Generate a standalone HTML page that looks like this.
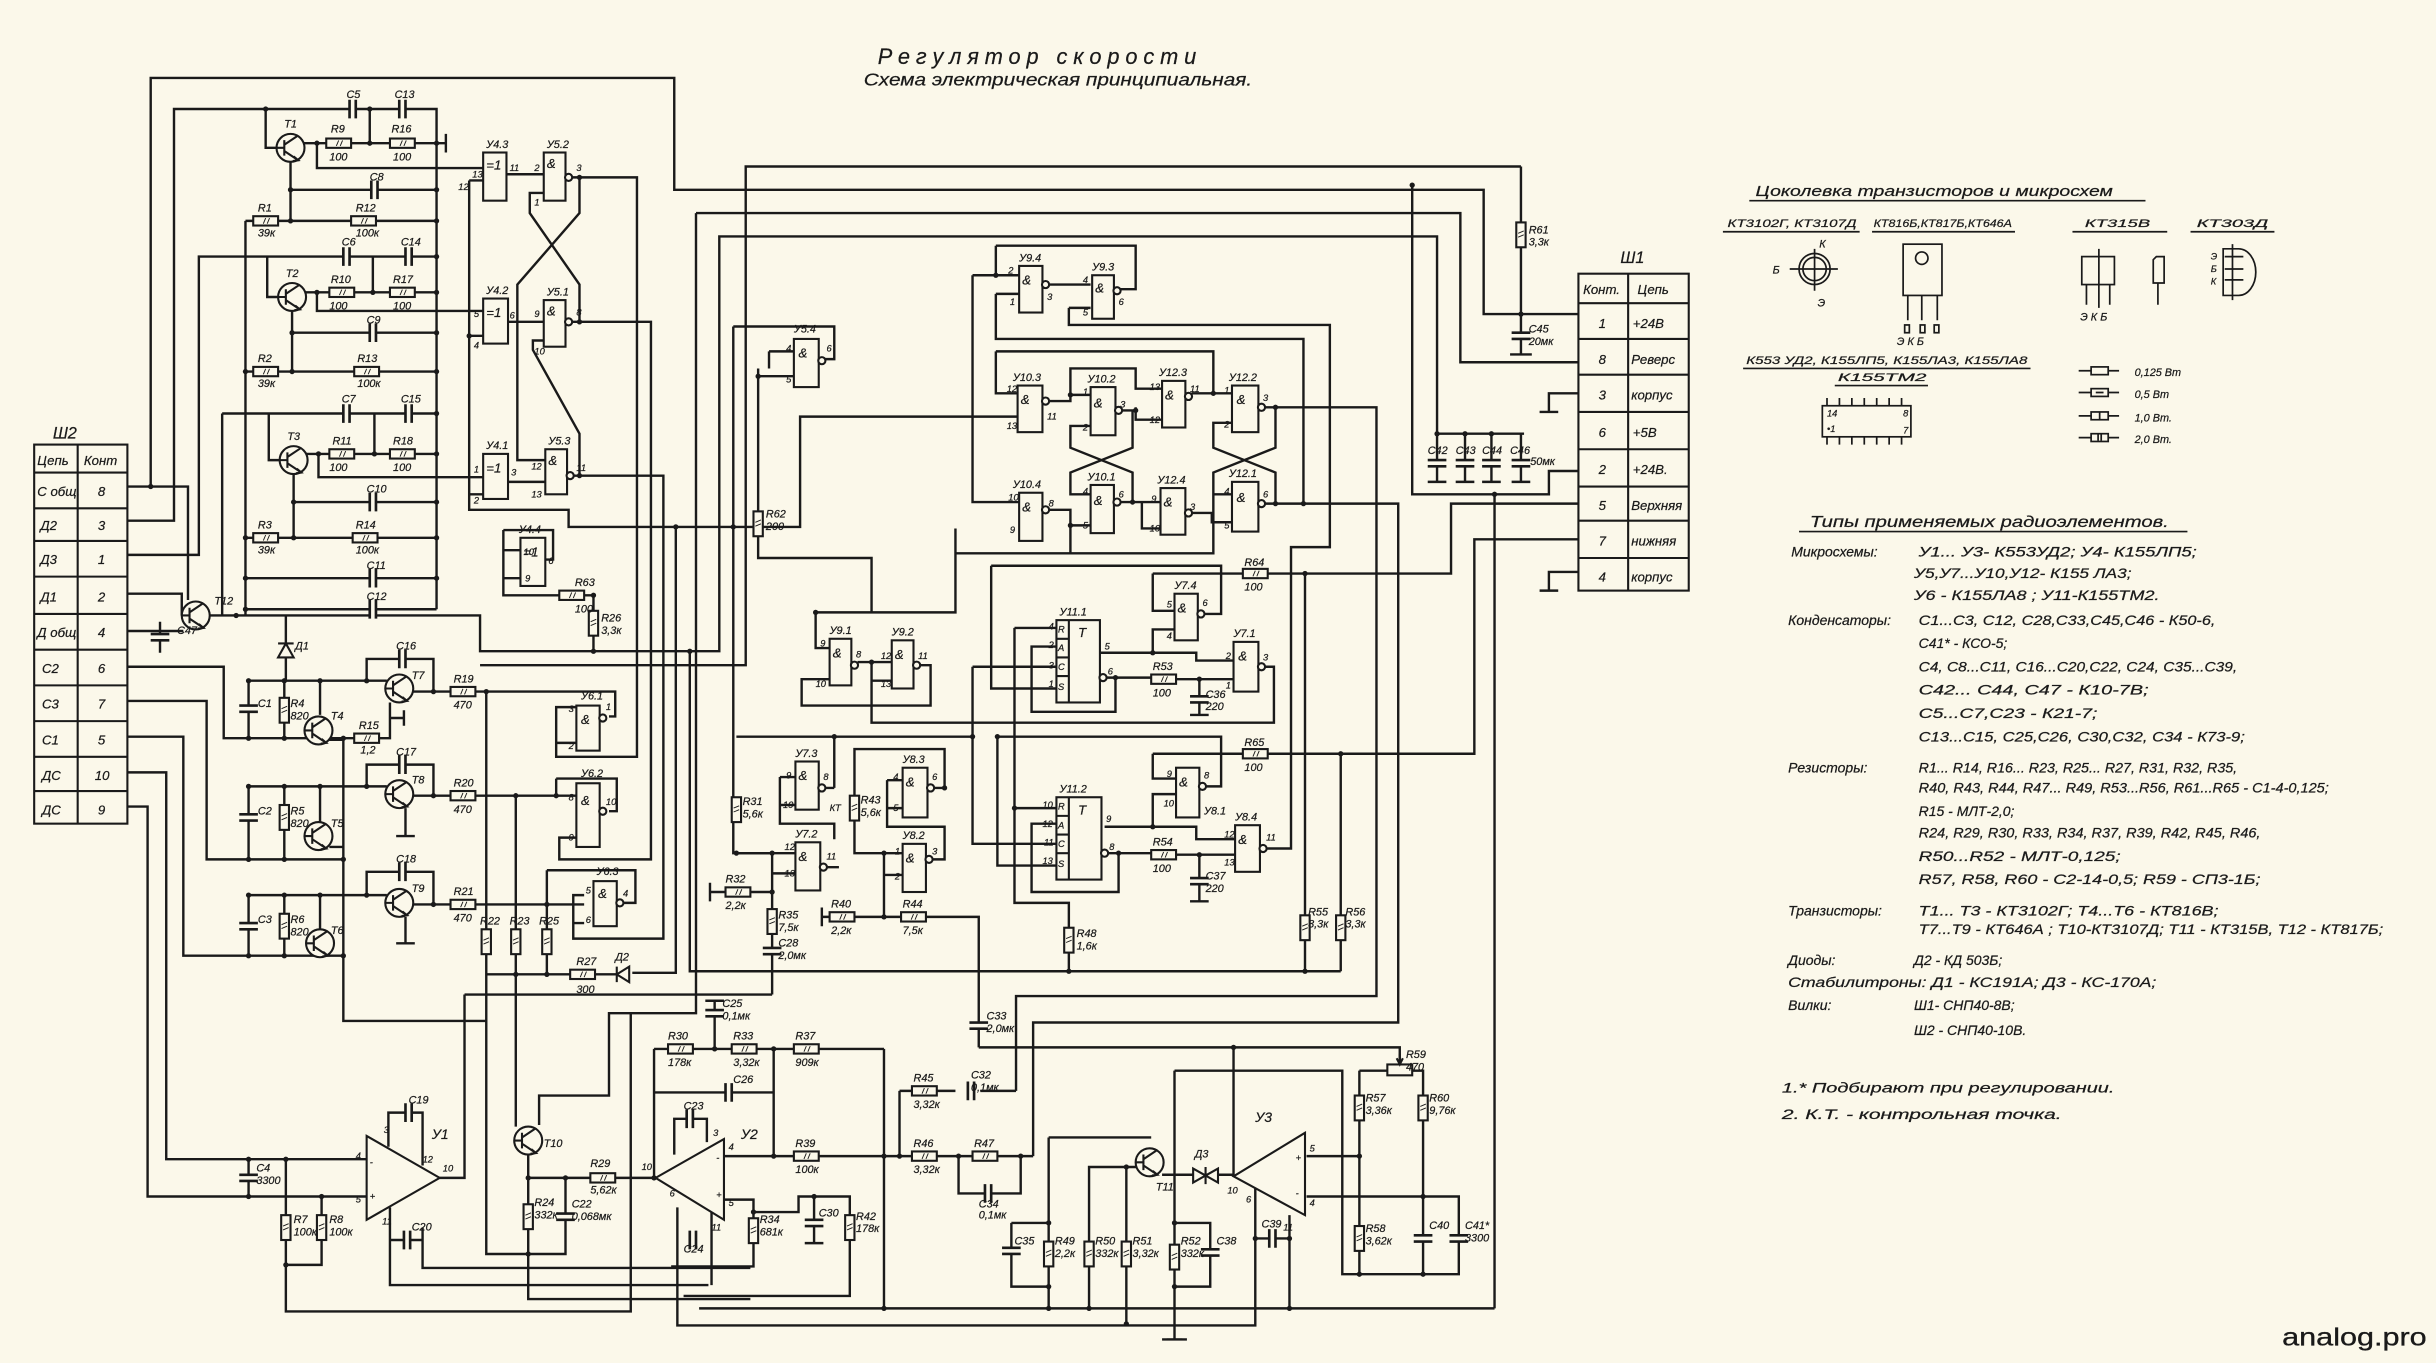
<!DOCTYPE html>
<html><head><meta charset="utf-8"><title>Регулятор скорости</title>
<style>
html,body{margin:0;padding:0;background:#fbf8ea;}
svg{display:block;}
text{font-family:"Liberation Sans","DejaVu Sans",sans-serif;font-style:italic;fill:#1a1a1a;stroke:#1a1a1a;stroke-width:0.15px;}
.s{font-size:7px}
.p{font-size:6px}
.m{font-size:8.5px}
.r{font-size:10px}
</style></head>
<body>
<svg xmlns="http://www.w3.org/2000/svg" xmlns:xlink="http://www.w3.org/1999/xlink" width="2436" height="1363" viewBox="0 0 1568 877">
<defs>
<g id="rh"><rect x="-8" y="-3" width="16" height="6" fill="#fbf8ea"/><path d="M-1.5,1.8L0,-1.8M1,1.8L2.5,-1.8" stroke-width=".6"/></g>
<g id="rv"><rect x="-3" y="-8" width="6" height="16" fill="#fbf8ea"/><path d="M-1.8,1.5L1.8,0M-1.8,-1L1.8,-2.5" stroke-width=".6"/></g>
<g id="ch"><rect x="-2" y="-6" width="4" height="12" fill="#fbf8ea" stroke="none"/><path d="M-2,-6V6M2,-6V6" stroke-width="1.7"/></g>
<g id="cv"><rect x="-6" y="-2" width="12" height="4" fill="#fbf8ea" stroke="none"/><path d="M-6,-2H6M-6,2H6" stroke-width="1.7"/></g>
<g id="q"><circle r="9" fill="#fbf8ea"/><path d="M-9,0H-4M-4,-5V5M-4,-2L5,-8M-4,2L5,8M2,5.5L5,8L1.5,8.5"/></g>
</defs>
<rect width="1568" height="877" fill="#fbf8ea"/>

<!-- Title -->
<text x="565" y="41" font-size="14" textLength="205" lengthAdjust="spacing">Регулятор   скорости</text>
<text x="556" y="55" font-size="11" textLength="250" lengthAdjust="spacingAndGlyphs">Схема электрическая принципиальная.</text>

<g stroke="#1a1a1a" stroke-width="1.55" fill="none" stroke-linejoin="miter">

<!-- ============ Top left block (T1-T3) ============ -->
<path d="M97,313V50H434V122H955V202H1016
M82,313H121V386
M82,335H112V70H281V392
M171,70V95H178
M194,92H281
M238,70V92
M281,92H287M287,86V98
M204,92V108H311
M187,104V142
M187,122H281
M158,142H281
M158,142V396
M82,357H128V165H281
M172,165V191H179
M195,188H281
M240,165V188
M204,188V200H311
M188,200V239
M188,214H281
M158,239H281
M143,266V396
M143,266H281
M173,266V296H180
M196,292H281
M241,266V292
M205,292V307H311
M189,305V346
M189,323H281
M158,346H281
M158,372H281
M158,392H281
M135,396H158V396
M152,396H309V419H463V152H925V279H981
M309,428H480V107H979
M82,382H117V396
M82,406H118
M103,400V420
"/>
<!-- Top long bus -->
<path d="M448,137H940V233H1016
M979,107V228M972,228H986
M909,119V318H997V303H1016
M962,318V842
M925,279V310M943,279V310M960,279V310M979,279V310
M919,310H931M937,310H949M954,310H966M973,310H985
M1016,253H997V265M991,265H1003
M1016,368H997V380M991,380H1003
M1016,324H934V369H816
M1016,347H949V485H816
"/>

<!-- ============ У4/У5 logic ============ -->
<path d="M302,116V328H366V339H515V268H655
M302,116H311M302,216H311M302,318H311
M326,112H350
M327,207H350
M327,310H351
M368,114H410V487H358V455H371M358,478H371
M373,114V137L333,183V296H351
M350,124H341V137L373,183V207
M368,207H419V553H360V539H371
M350,219H343V225L373,279V306
M369,306H427V604H369V576H376M369,594H376
M324,341H356V360H351
M324,341V383H360M324,354H335M324,372H335
M376,383H382V419
M435,339V626H407
M444,419V625H863
M448,137V652H392V705H347V724
M472,210H537V231H529
M472,210V549H512
M495,226H511M495,226V237M488,242H511
M488,237V359H561V394
M615,340V394H525V417H534
"/>

<!-- ============ Middle top logic ============ -->
<path d="M626,177H656M626,177V323H656
M641,158H731V186H721
M641,158V177
M672,183H702
M641,189H656M641,189V218H839V324
M688,198H702M688,198V209H856V352H831V546H813
M641,226H781V253H793M641,226V253H655
M675,258H689V237H731V250H748
M689,254H702
M722,264H731V270H748
M731,264V262
M767,253H793
M702,274H689V288L729,304V323
M729,264V288L689,304V318H702
M793,272H781V288L821,304V324
M821,262V288L781,304V318H793
M814,262H886V641H654V702
M814,324H900V658H665V744
M675,328H689V338H702
M781,318V356H615
M689,338V356
M721,323H747
M735,323V340H747
M767,330H780V336H793
"/>

<!-- ============ У7/У9/У11 area ============ -->
<path d="M552,426H574
M561,426V465H820V429H814
M561,438H574
M592,428H599V454H516V437H534
M638,364H786V395H773
M638,364V443H680
M653,404H680M653,404V581H688V625
M653,520H680
M474,474H626
M626,429H680M626,429V543H680
M642,474H786V506H774M642,474V557H680
M680,416H664V458H718V436H712
M708,420H770V425H794
M742,420V405H756
M742,369V393H756
M742,369H800
M712,436H741M757,437H794
M772,437V460M766,460H778
M711,532H770V540H795
M742,532V511H757
M742,485V501H757
M742,485H800
M680,530H664V574H720V549H713
M713,549H741M757,550H795
M772,550V580M766,580H778
M840,369V625
M863,485V625
"/>
<!-- ============ У7.2/У7.3/У8.2/У8.3 ============ -->
<path d="M474,549H497V640
M497,562H512
M457,574H497M457,568V580
M299,640H497
M537,507H529M537,507V474
M502,500H512M502,500V518H512M502,518V530H537V540
M530,558H540
M608,507H599M608,507V482H550V549H581
M569,549V590
M569,563H581
M571,502H581M571,502V532H608V553H598
M571,520H581
M529,590H630V674
M529,584V596
"/>

<!-- ============ Bottom-left (T4-T10, U1) ============ -->
<path d="M82,429H144V475H221
M82,451H133V553H221
M82,474H118V615H221
M82,497H107V746H236
M82,519H95V770H236
M184,396V438
M160,438H236
M160,438V475M183,438V475M206,438V460
M212,476H221
M221,475V657H313
M221,475H251V452
M251,462H260M260,457V467
M236,438V424H279V445
M236,438H249
M264,445H396V461H392
M160,506H236
M160,506V553M183,506V553M206,506V529
M212,545H221
M236,506V492H279V512
M236,506H249
M264,512H371
M358,501H397V522H392
M358,501V512
M261,520V538M255,538H267
M160,576H236
M160,576V615M183,576V615M206,576V599
M212,615H221
M236,576V561H279V582
M236,576H249
M264,582H352
M352,560H409V581H399
M352,560V627
M352,582H376
M261,590V607M255,607H267
M313,445V807H364V760
M332,512V725
M313,627H367
M383,627H397
M184,746V844H406V652
M207,770V814H184
M160,746V770
M250,738V716H272V750
M251,777V827H456
M251,798H272
M272,790V816H483
M283,758H299V640
M340,742V836H483
M340,758H421
M364,758V764
"/>
<!-- ============ U2 area ============ -->
<path d="M421,675V758
M421,675H569
M460,675V644M454,644H466
M421,703H498
M498,675V744
M466,744H569
M434,743V720H455V735
M466,772H485V815H432
M485,780H514V770H547V834H440
M524,770V800M518,800H530
M436,777V853H808V763
M458,780V827
M569,675V842
M569,744H665
M579,702V744
M579,702H615
M631,702H654
M617,744V768H657V744
"/>
<!-- ============ U3 / T11 area ============ -->
<path d="M630,674H901V685
M794,674V757
M675,732H741
M675,732V842
M651,787H675
M651,787V828H675
M733,751H701V842
M725,751V852
M748,756H794
M756,689H864V820H939V770H841
M875,689H916V820
M875,689V820
M841,744H875
M756,689V862M748,862H764
M756,787H779V828H756
M830,782V842
M808,797H830
M450,842H962
"/>
</g>

<!-- ============ Components ============ -->
<g stroke="#1a1a1a" stroke-width="1.35" fill="none">
<use xlink:href="#rh" x="218" y="92"/><use xlink:href="#rh" x="259" y="92"/>
<use xlink:href="#rh" x="171" y="142"/><use xlink:href="#rh" x="234" y="142"/>
<use xlink:href="#rh" x="220" y="188"/><use xlink:href="#rh" x="259" y="188"/>
<use xlink:href="#rh" x="171" y="239"/><use xlink:href="#rh" x="236" y="239"/>
<use xlink:href="#rh" x="220" y="292"/><use xlink:href="#rh" x="259" y="292"/>
<use xlink:href="#rh" x="171" y="346"/><use xlink:href="#rh" x="235" y="346"/>
<use xlink:href="#rh" x="236" y="475"/>
<use xlink:href="#rh" x="298" y="445"/><use xlink:href="#rh" x="298" y="512"/><use xlink:href="#rh" x="298" y="582"/>
<use xlink:href="#rh" x="375" y="627"/>
<use xlink:href="#rh" x="368" y="383"/>
<use xlink:href="#rh" x="808" y="369"/><use xlink:href="#rh" x="808" y="485"/>
<use xlink:href="#rh" x="749" y="437"/><use xlink:href="#rh" x="749" y="550"/>
<use xlink:href="#rh" x="475" y="574"/><use xlink:href="#rh" x="542" y="590"/><use xlink:href="#rh" x="588" y="590"/>
<use xlink:href="#rh" x="388" y="758"/>
<use xlink:href="#rh" x="438" y="675"/><use xlink:href="#rh" x="479" y="675"/><use xlink:href="#rh" x="519" y="675"/>
<use xlink:href="#rh" x="519" y="744"/>
<use xlink:href="#rh" x="595" y="702"/><use xlink:href="#rh" x="595" y="744"/><use xlink:href="#rh" x="634" y="744"/>
<rect x="893" y="685" width="16" height="7" fill="#fbf8ea"/>
<path d="M901,678V685M899,681L901,685L903,681"/>
<use xlink:href="#rv" x="979" y="151"/><use xlink:href="#rv" x="488" y="337"/><use xlink:href="#rv" x="382" y="401"/>
<use xlink:href="#rv" x="313" y="606"/><use xlink:href="#rv" x="332" y="606"/><use xlink:href="#rv" x="352" y="606"/>
<use xlink:href="#rv" x="183" y="457"/><use xlink:href="#rv" x="183" y="526"/><use xlink:href="#rv" x="183" y="596"/>
<use xlink:href="#rv" x="184" y="790"/><use xlink:href="#rv" x="207" y="790"/>
<use xlink:href="#rv" x="340" y="783"/>
<use xlink:href="#rv" x="485" y="792"/><use xlink:href="#rv" x="547" y="790"/>
<use xlink:href="#rv" x="474" y="521"/><use xlink:href="#rv" x="550" y="520"/><use xlink:href="#rv" x="497" y="593"/>
<use xlink:href="#rv" x="688" y="605"/><use xlink:href="#rv" x="840" y="597"/><use xlink:href="#rv" x="863" y="597"/>
<use xlink:href="#rv" x="675" y="807"/><use xlink:href="#rv" x="701" y="807"/><use xlink:href="#rv" x="725" y="807"/><use xlink:href="#rv" x="756" y="809"/>
<use xlink:href="#rv" x="875" y="713"/><use xlink:href="#rv" x="916" y="713"/><use xlink:href="#rv" x="875" y="797"/>
<use xlink:href="#ch" x="227" y="70"/><use xlink:href="#ch" x="259" y="70"/>
<use xlink:href="#ch" x="241" y="122"/>
<use xlink:href="#ch" x="223" y="165"/><use xlink:href="#ch" x="263" y="165"/>
<use xlink:href="#ch" x="240" y="214"/>
<use xlink:href="#ch" x="223" y="266"/><use xlink:href="#ch" x="263" y="266"/>
<use xlink:href="#ch" x="240" y="323"/><use xlink:href="#ch" x="240" y="372"/><use xlink:href="#ch" x="240" y="392"/>
<use xlink:href="#ch" x="259" y="424"/><use xlink:href="#ch" x="259" y="492"/><use xlink:href="#ch" x="259" y="561"/>
<use xlink:href="#ch" x="263" y="716"/><use xlink:href="#ch" x="262" y="798"/>
<use xlink:href="#ch" x="444" y="720"/><use xlink:href="#ch" x="469" y="703"/>
<use xlink:href="#ch" x="625" y="702"/><use xlink:href="#ch" x="636" y="768"/>
<use xlink:href="#ch" x="819" y="797"/><use xlink:href="#ch" x="446" y="798"/>
<use xlink:href="#cv" x="979" y="216"/>
<use xlink:href="#cv" x="925" y="298"/><use xlink:href="#cv" x="943" y="298"/><use xlink:href="#cv" x="960" y="298"/><use xlink:href="#cv" x="979" y="298"/>
<use xlink:href="#cv" x="103" y="410"/>
<use xlink:href="#cv" x="160" y="456"/><use xlink:href="#cv" x="160" y="526"/><use xlink:href="#cv" x="160" y="596"/>
<use xlink:href="#cv" x="160" y="758"/><use xlink:href="#cv" x="364" y="783"/>
<use xlink:href="#cv" x="460" y="652"/><use xlink:href="#cv" x="524" y="787"/><use xlink:href="#cv" x="497" y="612"/>
<use xlink:href="#cv" x="630" y="660"/>
<use xlink:href="#cv" x="772" y="450"/><use xlink:href="#cv" x="772" y="567"/>
<use xlink:href="#cv" x="651" y="805"/><use xlink:href="#cv" x="779" y="806"/>
<use xlink:href="#cv" x="916" y="797"/><use xlink:href="#cv" x="939" y="797"/>
<use xlink:href="#q" x="187" y="95"/><use xlink:href="#q" x="188" y="191"/><use xlink:href="#q" x="189" y="296"/>
<use xlink:href="#q" x="126" y="396"/>
<use xlink:href="#q" x="205" y="470"/><use xlink:href="#q" x="205" y="538"/><use xlink:href="#q" x="206" y="607"/>
<use xlink:href="#q" x="257" y="443"/><use xlink:href="#q" x="257" y="511"/><use xlink:href="#q" x="257" y="581"/>
<use xlink:href="#q" x="340" y="734"/><use xlink:href="#q" x="740" y="748"/>
<path d="M179,423H189L184,414ZM179,414H189" fill="#fbf8ea"/>
<path d="M397,627L405,622V632ZM397,622V632" fill="#fbf8ea"/>
<path d="M768,752V761L776,756.5ZM784,752V761L776,756.5ZM776,751V762" fill="#fbf8ea"/>
<g fill="#fbf8ea">
<rect x="311" y="98" width="15" height="31"/><rect x="350" y="98" width="14" height="31"/>
<rect x="311" y="192" width="16" height="29"/><rect x="350" y="193" width="14" height="30"/>
<rect x="311" y="292" width="16" height="29"/><rect x="351" y="289" width="14" height="29"/>
<rect x="335" y="346" width="16" height="31"/>
<rect x="511" y="218" width="16" height="31"/>
<rect x="371" y="454" width="15" height="29"/><rect x="371" y="504" width="15" height="41"/><rect x="382" y="567" width="15" height="29"/>
<rect x="656" y="171" width="15" height="30"/><rect x="703" y="177" width="14" height="28"/>
<rect x="655" y="248" width="16" height="30"/><rect x="702" y="249" width="16" height="31"/>
<rect x="748" y="245" width="15" height="30"/><rect x="793" y="248" width="17" height="30"/>
<rect x="656" y="317" width="15" height="31"/><rect x="702" y="312" width="15" height="31"/>
<rect x="747" y="314" width="16" height="30"/><rect x="793" y="310" width="17" height="32"/>
<rect x="756" y="382" width="15" height="30"/><rect x="794" y="413" width="16" height="32"/>
<rect x="534" y="411" width="14" height="30"/><rect x="574" y="412" width="14" height="31"/>
<rect x="512" y="490" width="15" height="31"/><rect x="581" y="494" width="16" height="32"/>
<rect x="512" y="542" width="16" height="31"/><rect x="581" y="543" width="15" height="31"/>
<rect x="757" y="494" width="15" height="32"/><rect x="795" y="531" width="16" height="30"/>
<rect x="680" y="399" width="28" height="53"/><rect x="680" y="513" width="29" height="53"/>
</g>
<path d="M688,399V452M680,411H688M680,423H688M680,435H688M688,513V566M680,525H688M680,537H688M680,549H688"/>
<g fill="#fbf8ea">
<circle cx="366" cy="114" r="2.3"/><circle cx="366" cy="207" r="2.3"/><circle cx="367" cy="306" r="2.3"/>
<circle cx="529" cy="232" r="2.3"/><circle cx="388" cy="462" r="2.3"/><circle cx="388" cy="522" r="2.3"/><circle cx="399" cy="581" r="2.3"/>
<circle cx="673" cy="183" r="2.3"/><circle cx="719" cy="187" r="2.3"/>
<circle cx="673" cy="258" r="2.3"/><circle cx="720" cy="264" r="2.3"/><circle cx="765" cy="255" r="2.3"/><circle cx="812" cy="262" r="2.3"/>
<circle cx="673" cy="328" r="2.3"/><circle cx="719" cy="323" r="2.3"/><circle cx="765" cy="330" r="2.3"/><circle cx="812" cy="324" r="2.3"/>
<circle cx="773" cy="395" r="2.3"/><circle cx="812" cy="429" r="2.3"/>
<circle cx="550" cy="428" r="2.3"/><circle cx="590" cy="428" r="2.3"/>
<circle cx="529" cy="507" r="2.3"/><circle cx="599" cy="507" r="2.3"/><circle cx="530" cy="558" r="2.3"/><circle cx="598" cy="553" r="2.3"/>
<circle cx="774" cy="506" r="2.3"/><circle cx="813" cy="546" r="2.3"/>
<circle cx="710" cy="436" r="2.3"/><circle cx="711" cy="549" r="2.3"/>
</g>
<polygon points="236,731 283,758 236,785" fill="#fbf8ea"/>
<polygon points="466,733 422,758 466,785" fill="#fbf8ea"/>
<polygon points="840,729 794,757 840,782" fill="#fbf8ea"/>
<path d="M751,862H761"/>
<rect x="22" y="286" width="60" height="244" fill="none"/>
<path d="M50,286V530M22,304H82M22,327H82M22,348H82M22,371H82M22,395H82M22,418H82M22,441H82M22,464H82M22,487H82M22,509H82"/>
<rect x="1016" y="176" width="71" height="204" fill="none"/>
<path d="M1048,176V380M1016,195H1087M1016,218H1087M1016,241H1087M1016,265H1087M1016,289H1087M1016,313H1087M1016,335H1087M1016,359H1087"/>
</g>

<!-- junction dots -->
<g fill="#1a1a1a">
<circle cx="97" cy="313" r="1.7"/><circle cx="171" cy="70" r="1.7"/><circle cx="238" cy="70" r="1.7"/><circle cx="238" cy="92" r="1.7"/>
<circle cx="204" cy="92" r="1.7"/><circle cx="281" cy="92" r="1.7"/><circle cx="187" cy="122" r="1.7"/><circle cx="187" cy="142" r="1.7"/>
<circle cx="281" cy="122" r="1.7"/><circle cx="281" cy="142" r="1.7"/><circle cx="281" cy="165" r="1.7"/><circle cx="281" cy="188" r="1.7"/>
<circle cx="281" cy="214" r="1.7"/><circle cx="281" cy="239" r="1.7"/><circle cx="281" cy="266" r="1.7"/><circle cx="281" cy="292" r="1.7"/>
<circle cx="281" cy="323" r="1.7"/><circle cx="281" cy="346" r="1.7"/><circle cx="281" cy="372" r="1.7"/>
<circle cx="158" cy="239" r="1.7"/><circle cx="158" cy="346" r="1.7"/><circle cx="158" cy="372" r="1.7"/><circle cx="158" cy="392" r="1.7"/>
<circle cx="188" cy="214" r="1.7"/><circle cx="188" cy="239" r="1.7"/><circle cx="189" cy="323" r="1.7"/><circle cx="189" cy="346" r="1.7"/>
<circle cx="240" cy="188" r="1.7"/><circle cx="241" cy="292" r="1.7"/><circle cx="204" cy="188" r="1.7"/><circle cx="205" cy="292" r="1.7"/>
<circle cx="152" cy="396" r="1.7"/><circle cx="382" cy="383" r="1.7"/><circle cx="382" cy="419" r="1.7"/><circle cx="444" cy="419" r="1.7"/>
<circle cx="302" cy="216" r="1.7"/><circle cx="373" cy="114" r="1.7"/><circle cx="373" cy="207" r="1.7"/><circle cx="373" cy="306" r="1.7"/>
<circle cx="435" cy="339" r="1.7"/><circle cx="472" cy="339" r="1.7"/><circle cx="488" cy="242" r="1.7"/>
<circle cx="641" cy="177" r="1.7"/><circle cx="689" cy="254" r="1.7"/><circle cx="731" cy="264" r="1.7"/><circle cx="781" cy="253" r="1.7"/>
<circle cx="821" cy="262" r="1.7"/><circle cx="821" cy="324" r="1.7"/><circle cx="839" cy="324" r="1.7"/><circle cx="689" cy="338" r="1.7"/>
<circle cx="729" cy="323" r="1.7"/><circle cx="561" cy="426" r="1.7"/><circle cx="525" cy="394" r="1.7"/>
<circle cx="742" cy="420" r="1.7"/><circle cx="718" cy="436" r="1.7"/><circle cx="772" cy="437" r="1.7"/><circle cx="626" cy="474" r="1.7"/>
<circle cx="642" cy="474" r="1.7"/><circle cx="653" cy="520" r="1.7"/><circle cx="742" cy="532" r="1.7"/><circle cx="720" cy="549" r="1.7"/>
<circle cx="772" cy="550" r="1.7"/><circle cx="840" cy="369" r="1.7"/><circle cx="863" cy="485" r="1.7"/><circle cx="840" cy="625" r="1.7"/>
<circle cx="688" cy="625" r="1.7"/><circle cx="474" cy="549" r="1.7"/><circle cx="497" cy="549" r="1.7"/><circle cx="497" cy="574" r="1.7"/>
<circle cx="537" cy="474" r="1.7"/><circle cx="569" cy="549" r="1.7"/><circle cx="569" cy="590" r="1.7"/><circle cx="608" cy="507" r="1.7"/>
<circle cx="160" cy="438" r="1.7"/><circle cx="183" cy="438" r="1.7"/><circle cx="206" cy="438" r="1.7"/><circle cx="236" cy="438" r="1.7"/>
<circle cx="160" cy="475" r="1.7"/><circle cx="183" cy="475" r="1.7"/><circle cx="221" cy="475" r="1.7"/><circle cx="279" cy="445" r="1.7"/>
<circle cx="313" cy="445" r="1.7"/><circle cx="160" cy="506" r="1.7"/><circle cx="183" cy="506" r="1.7"/><circle cx="206" cy="506" r="1.7"/>
<circle cx="236" cy="506" r="1.7"/><circle cx="160" cy="553" r="1.7"/><circle cx="183" cy="553" r="1.7"/><circle cx="221" cy="553" r="1.7"/>
<circle cx="279" cy="512" r="1.7"/><circle cx="332" cy="512" r="1.7"/><circle cx="358" cy="512" r="1.7"/><circle cx="160" cy="576" r="1.7"/>
<circle cx="183" cy="576" r="1.7"/><circle cx="206" cy="576" r="1.7"/><circle cx="236" cy="576" r="1.7"/><circle cx="160" cy="615" r="1.7"/>
<circle cx="183" cy="615" r="1.7"/><circle cx="221" cy="615" r="1.7"/><circle cx="279" cy="582" r="1.7"/><circle cx="352" cy="582" r="1.7"/>
<circle cx="332" cy="627" r="1.7"/><circle cx="352" cy="627" r="1.7"/><circle cx="160" cy="746" r="1.7"/><circle cx="184" cy="746" r="1.7"/>
<circle cx="160" cy="770" r="1.7"/><circle cx="207" cy="770" r="1.7"/><circle cx="184" cy="814" r="1.7"/><circle cx="340" cy="758" r="1.7"/>
<circle cx="364" cy="758" r="1.7"/><circle cx="340" cy="807" r="1.7"/><circle cx="421" cy="758" r="1.7"/><circle cx="460" cy="675" r="1.7"/>
<circle cx="498" cy="675" r="1.7"/><circle cx="498" cy="744" r="1.7"/><circle cx="569" cy="744" r="1.7"/><circle cx="579" cy="744" r="1.7"/>
<circle cx="617" cy="744" r="1.7"/><circle cx="657" cy="744" r="1.7"/><circle cx="485" cy="780" r="1.7"/><circle cx="524" cy="770" r="1.7"/>
<circle cx="569" cy="842" r="1.7"/><circle cx="794" cy="674" r="1.7"/><circle cx="675" cy="787" r="1.7"/><circle cx="675" cy="828" r="1.7"/>
<circle cx="675" cy="842" r="1.7"/><circle cx="701" cy="842" r="1.7"/><circle cx="725" cy="852" r="1.7"/><circle cx="725" cy="751" r="1.7"/>
<circle cx="756" cy="787" r="1.7"/><circle cx="756" cy="828" r="1.7"/><circle cx="808" cy="797" r="1.7"/><circle cx="830" cy="797" r="1.7"/>
<circle cx="830" cy="842" r="1.7"/><circle cx="875" cy="744" r="1.7"/><circle cx="916" cy="770" r="1.7"/><circle cx="875" cy="820" r="1.7"/>
<circle cx="916" cy="820" r="1.7"/><circle cx="909" cy="119" r="1.7"/><circle cx="979" cy="202" r="1.7"/><circle cx="962" cy="318" r="1.7"/>
<circle cx="943" cy="279" r="1.7"/><circle cx="960" cy="279" r="1.7"/><circle cx="925" cy="279" r="1.7"/>
</g>

<!-- ============ Labels: gates ============ -->
<g class="s">
<text x="313" y="95">У4.3</text><text x="352" y="95">У5.2</text><text x="313" y="189">У4.2</text><text x="352" y="190">У5.1</text>
<text x="313" y="289">У4.1</text><text x="353" y="286">У5.3</text><text x="334" y="343">У4.4</text><text x="511" y="214">У5.4</text>
<text x="374" y="450">У6.1</text><text x="374" y="500">У6.2</text><text x="384" y="563">У6.3</text>
<text x="656" y="168">У9.4</text><text x="703" y="174">У9.3</text><text x="652" y="245">У10.3</text><text x="700" y="246">У10.2</text>
<text x="746" y="242">У12.3</text><text x="791" y="245">У12.2</text><text x="652" y="314">У10.4</text><text x="700" y="309">У10.1</text>
<text x="745" y="311">У12.4</text><text x="791" y="307">У12.1</text><text x="756" y="379">У7.4</text><text x="682" y="396">У11.1</text>
<text x="794" y="410">У7.1</text><text x="534" y="408">У9.1</text><text x="574" y="409">У9.2</text><text x="512" y="487">У7.3</text>
<text x="581" y="491">У8.3</text><text x="512" y="539">У7.2</text><text x="581" y="540">У8.2</text><text x="682" y="510">У11.2</text>
<text x="775" y="524">У8.1</text><text x="795" y="528">У8.4</text>
<text x="278" y="733" font-size="9">У1</text><text x="477" y="733" font-size="9">У2</text><text x="808" y="722" font-size="9">У3</text>
</g>
<g class="m">
<text x="313" y="109">=1</text><text x="313" y="204">=1</text><text x="313" y="304">=1</text><text x="337" y="358">=1</text>
<text x="352" y="108">&amp;</text><text x="352" y="203">&amp;</text><text x="353" y="299">&amp;</text><text x="514" y="230">&amp;</text>
<text x="374" y="466">&amp;</text><text x="374" y="518">&amp;</text><text x="385" y="578">&amp;</text>
<text x="658" y="183">&amp;</text><text x="705" y="188">&amp;</text><text x="657" y="260">&amp;</text><text x="704" y="262">&amp;</text>
<text x="750" y="257">&amp;</text><text x="796" y="260">&amp;</text><text x="658" y="329">&amp;</text><text x="704" y="325">&amp;</text>
<text x="749" y="326">&amp;</text><text x="796" y="323">&amp;</text><text x="758" y="394">&amp;</text><text x="797" y="425">&amp;</text>
<text x="536" y="423">&amp;</text><text x="576" y="424">&amp;</text><text x="514" y="502">&amp;</text><text x="583" y="506">&amp;</text>
<text x="514" y="554">&amp;</text><text x="583" y="555">&amp;</text><text x="759" y="506">&amp;</text><text x="797" y="543">&amp;</text>
<text x="694" y="410">T</text><text x="694" y="524">T</text>
</g>
<g class="p">
<text x="681" y="407">R</text><text x="681" y="419">A</text><text x="681" y="431">C</text><text x="681" y="444">S</text>
<text x="681" y="521">R</text><text x="681" y="533">A</text><text x="681" y="545">C</text><text x="681" y="558">S</text>
<text x="304" y="114">13</text><text x="295" y="122">12</text><text x="328" y="110">11</text><text x="344" y="110">2</text><text x="344" y="132">1</text><text x="371" y="110">3</text>
<text x="305" y="204">5</text><text x="305" y="224">4</text><text x="328" y="205">6</text><text x="344" y="204">9</text><text x="344" y="228">10</text><text x="371" y="203">8</text>
<text x="305" y="304">1</text><text x="305" y="324">2</text><text x="329" y="306">3</text><text x="342" y="302">12</text><text x="342" y="320">13</text><text x="371" y="303">11</text>
<text x="337" y="357">10</text><text x="338" y="374">9</text><text x="353" y="363">6</text>
<text x="506" y="226">4</text><text x="506" y="246">5</text><text x="532" y="226">6</text>
<text x="649" y="176">2</text><text x="650" y="196">1</text><text x="674" y="193">3</text><text x="697" y="182">4</text><text x="697" y="203">5</text><text x="720" y="196">6</text>
<text x="648" y="252">12</text><text x="648" y="276">13</text><text x="674" y="270">11</text><text x="697" y="254">1</text><text x="697" y="277">2</text><text x="721" y="262">3</text>
<text x="740" y="251">13</text><text x="740" y="272">12</text><text x="766" y="252">11</text><text x="788" y="253">1</text><text x="788" y="275">2</text><text x="813" y="258">3</text>
<text x="649" y="322">10</text><text x="650" y="343">9</text><text x="675" y="326">8</text><text x="697" y="318">4</text><text x="697" y="340">5</text><text x="720" y="320">6</text>
<text x="741" y="323">9</text><text x="740" y="342">10</text><text x="766" y="328">3</text><text x="788" y="318">4</text><text x="788" y="340">5</text><text x="813" y="320">6</text>
<text x="751" y="391">5</text><text x="751" y="411">4</text><text x="774" y="390">6</text><text x="789" y="424">2</text><text x="789" y="443">1</text><text x="813" y="425">3</text>
<text x="675" y="405">4</text><text x="675" y="417">2</text><text x="675" y="430">3</text><text x="675" y="442">1</text><text x="711" y="418">5</text><text x="713" y="434">6</text>
<text x="671" y="520">10</text><text x="671" y="532">12</text><text x="672" y="544">11</text><text x="671" y="556">13</text><text x="712" y="529">9</text><text x="714" y="547">8</text>
<text x="528" y="416">9</text><text x="525" y="442">10</text><text x="551" y="423">8</text><text x="567" y="424">12</text><text x="567" y="442">13</text><text x="591" y="424">11</text>
<text x="506" y="501">9</text><text x="504" y="520">10</text><text x="530" y="502">8</text><text x="575" y="502">4</text><text x="575" y="522">5</text><text x="600" y="502">6</text>
<text x="505" y="547">12</text><text x="505" y="564">13</text><text x="532" y="553">11</text><text x="576" y="550">1</text><text x="576" y="566">2</text><text x="600" y="550">3</text>
<text x="751" y="500">9</text><text x="749" y="519">10</text><text x="775" y="501">8</text><text x="788" y="539">12</text><text x="788" y="557">13</text><text x="815" y="541">11</text>
<text x="366" y="458">3</text><text x="366" y="482">2</text><text x="390" y="457">1</text><text x="366" y="515">8</text><text x="366" y="541">9</text><text x="390" y="518">10</text>
<text x="377" y="575">5</text><text x="377" y="594">6</text><text x="401" y="577">4</text>
<text x="229" y="746">4</text><text x="238" y="750">-</text><text x="229" y="774">5</text><text x="238" y="772">+</text><text x="247" y="729">3</text><text x="272" y="748">12</text><text x="285" y="754">10</text><text x="246" y="788">11</text>
<text x="469" y="740">4</text><text x="461" y="747">-</text><text x="469" y="776">5</text><text x="461" y="771">+</text><text x="459" y="731">3</text><text x="413" y="753">10</text><text x="431" y="770">6</text><text x="458" y="792">11</text>
<text x="843" y="741">5</text><text x="834" y="747">+</text><text x="843" y="776">4</text><text x="834" y="770">-</text><text x="790" y="768">10</text><text x="802" y="774">6</text><text x="826" y="792">11</text>
<text x="534" y="522">КТ</text>
</g>

<!-- ============ Labels: components ============ -->
<g class="s">
<text x="183" y="82">T1</text><text x="213" y="85">R9</text><text x="252" y="85">R16</text><text x="223" y="63">C5</text><text x="254" y="63">C13</text>
<text x="212" y="103">100</text><text x="253" y="103">100</text><text x="166" y="136">R1</text><text x="166" y="152">39к</text><text x="238" y="116">C8</text>
<text x="229" y="136">R12</text><text x="229" y="152">100к</text>
<text x="184" y="178">T2</text><text x="213" y="182">R10</text><text x="253" y="182">R17</text><text x="220" y="158">C6</text><text x="258" y="158">C14</text>
<text x="212" y="199">100</text><text x="253" y="199">100</text><text x="166" y="233">R2</text><text x="166" y="249">39к</text><text x="236" y="208">C9</text>
<text x="230" y="233">R13</text><text x="230" y="249">100к</text>
<text x="185" y="283">T3</text><text x="214" y="286">R11</text><text x="253" y="286">R18</text><text x="220" y="259">C7</text><text x="258" y="259">C15</text>
<text x="212" y="303">100</text><text x="253" y="303">100</text><text x="166" y="340">R3</text><text x="166" y="356">39к</text><text x="236" y="317">C10</text>
<text x="229" y="340">R14</text><text x="229" y="356">100к</text><text x="236" y="366">C11</text><text x="236" y="386">C12</text>
<text x="138" y="389">T12</text><text x="114" y="408">C47</text><text x="190" y="418">Д1</text>
<text x="255" y="418">C16</text><text x="265" y="437">T7</text><text x="292" y="439">R19</text><text x="292" y="456">470</text>
<text x="166" y="455">C1</text><text x="187" y="455">R4</text><text x="187" y="463">820</text><text x="213" y="463">T4</text><text x="231" y="469">R15</text><text x="232" y="485">1,2</text>
<text x="255" y="486">C17</text><text x="265" y="504">T8</text><text x="292" y="506">R20</text><text x="292" y="523">470</text>
<text x="166" y="524">C2</text><text x="187" y="524">R5</text><text x="187" y="532">820</text><text x="213" y="532">T5</text>
<text x="255" y="555">C18</text><text x="265" y="574">T9</text><text x="292" y="576">R21</text><text x="292" y="593">470</text>
<text x="166" y="594">C3</text><text x="187" y="594">R6</text><text x="187" y="602">820</text><text x="213" y="601">T6</text>
<text x="309" y="595">R22</text><text x="328" y="595">R23</text><text x="347" y="595">R25</text><text x="371" y="621">R27</text><text x="371" y="639">300</text><text x="396" y="618">Д2</text>
<text x="370" y="377">R63</text><text x="370" y="394">100</text><text x="387" y="400">R26</text><text x="387" y="408">3,3к</text>
<text x="493" y="333">R62</text><text x="493" y="341">200</text>
<text x="984" y="150">R61</text><text x="984" y="158">3,3к</text><text x="984" y="214">C45</text><text x="984" y="222">20мк</text>
<text x="919" y="292">C42</text><text x="937" y="292">C43</text><text x="954" y="292">C44</text><text x="972" y="292">C46</text><text x="985" y="299">50мк</text>
<text x="801" y="364">R64</text><text x="801" y="380">100</text><text x="801" y="480">R65</text><text x="801" y="496">100</text>
<text x="742" y="431">R53</text><text x="742" y="448">100</text><text x="776" y="449">C36</text><text x="776" y="457">220</text>
<text x="742" y="544">R54</text><text x="742" y="561">100</text><text x="776" y="566">C37</text><text x="776" y="574">220</text>
<text x="693" y="603">R48</text><text x="693" y="611">1,6к</text><text x="842" y="589">R55</text><text x="842" y="597">3,3к</text><text x="866" y="589">R56</text><text x="866" y="597">3,3к</text>
<text x="478" y="518">R31</text><text x="478" y="526">5,6к</text><text x="554" y="517">R43</text><text x="554" y="525">5,6к</text>
<text x="467" y="568">R32</text><text x="467" y="585">2,2к</text><text x="501" y="591">R35</text><text x="501" y="599">7,5к</text><text x="501" y="609">C28</text><text x="501" y="617">2,0мк</text>
<text x="535" y="584">R40</text><text x="535" y="601">2,2к</text><text x="581" y="584">R44</text><text x="581" y="601">7,5к</text>
<text x="635" y="656">C33</text><text x="635" y="664">2,0мк</text>
<text x="263" y="710">C19</text><text x="265" y="792">C20</text><text x="165" y="754">C4</text><text x="165" y="762">3300</text>
<text x="189" y="787">R7</text><text x="189" y="795">100к</text><text x="212" y="787">R8</text><text x="212" y="795">100к</text>
<text x="350" y="738">T10</text><text x="380" y="751">R29</text><text x="380" y="768">5,62к</text><text x="344" y="776">R24</text><text x="344" y="784">332к</text>
<text x="368" y="777">C22</text><text x="368" y="785">0,068мк</text>
<text x="430" y="669">R30</text><text x="430" y="686">178к</text><text x="465" y="648">C25</text><text x="465" y="656">0,1мк</text><text x="472" y="669">R33</text><text x="472" y="686">3,32к</text>
<text x="512" y="669">R37</text><text x="512" y="686">909к</text><text x="472" y="697">C26</text><text x="440" y="714">C23</text><text x="512" y="738">R39</text><text x="512" y="755">100к</text>
<text x="489" y="787">R34</text><text x="489" y="795">681к</text><text x="527" y="783">C30</text><text x="551" y="785">R42</text><text x="551" y="793">178к</text><text x="440" y="806">C24</text>
<text x="588" y="696">R45</text><text x="588" y="713">3,32к</text><text x="625" y="694">C32</text><text x="625" y="702">0,1мк</text>
<text x="588" y="738">R46</text><text x="588" y="755">3,32к</text><text x="627" y="738">R47</text><text x="630" y="777">C34</text><text x="630" y="784">0,1мк</text>
<text x="744" y="766">T11</text><text x="769" y="745">Д3</text>
<text x="653" y="801">C35</text><text x="679" y="801">R49</text><text x="679" y="809">2,2к</text><text x="705" y="801">R50</text><text x="705" y="809">332к</text>
<text x="729" y="801">R51</text><text x="729" y="809">3,32к</text><text x="760" y="801">R52</text><text x="760" y="809">332к</text><text x="783" y="801">C38</text><text x="812" y="790">C39</text>
<text x="905" y="681">R59</text><text x="905" y="689">470</text><text x="879" y="709">R57</text><text x="879" y="717">3,36к</text><text x="920" y="709">R60</text><text x="920" y="717">9,76к</text>
<text x="879" y="793">R58</text><text x="879" y="801">3,62к</text><text x="920" y="791">C40</text><text x="943" y="791">C41*</text><text x="943" y="799">3300</text>
</g>

<!-- ============ Tables text ============ -->
<g class="m">
<text x="34" y="282" font-size="10.5">Ш2</text>
<text x="24" y="299">Цепь</text><text x="54" y="299">Конт</text>
<text x="24" y="319">С общ.</text><text x="63" y="319">8</text>
<text x="26" y="341">Д2</text><text x="63" y="341">3</text>
<text x="26" y="363">Д3</text><text x="63" y="363">1</text>
<text x="26" y="387">Д1</text><text x="63" y="387">2</text>
<text x="24" y="410">Д общ.</text><text x="63" y="410">4</text>
<text x="27" y="433">С2</text><text x="63" y="433">6</text>
<text x="27" y="456">С3</text><text x="63" y="456">7</text>
<text x="27" y="479">С1</text><text x="63" y="479">5</text>
<text x="27" y="502">ДС</text><text x="61" y="502">10</text>
<text x="27" y="524">ДС</text><text x="63" y="524">9</text>
<text x="1043" y="169" font-size="10.5">Ш1</text>
<text x="1019" y="189">Конт.</text><text x="1054" y="189">Цепь</text>
<text x="1029" y="211">1</text><text x="1051" y="211">+24В</text>
<text x="1029" y="234">8</text><text x="1050" y="234">Реверс</text>
<text x="1029" y="257">3</text><text x="1050" y="257">корпус</text>
<text x="1029" y="281">6</text><text x="1051" y="281">+5В</text>
<text x="1029" y="305">2</text><text x="1051" y="305">+24В.</text>
<text x="1029" y="328">5</text><text x="1050" y="328">Верхняя</text>
<text x="1029" y="351">7</text><text x="1050" y="351">нижняя</text>
<text x="1029" y="374">4</text><text x="1050" y="374">корпус</text>
</g>

<!-- ============ Right panel ============ -->
<g stroke="#1a1a1a" stroke-width="1.1" fill="none">
<path d="M1126,129H1381M1109,149H1197M1205,149H1297M1334,149H1395M1410,149H1464M1122,237H1307M1181,248H1241M1158,342H1408"/>
<circle cx="1168" cy="173" r="10"/><circle cx="1168" cy="173" r="7.5"/>
<path d="M1168,160V187M1152,173H1183M1168,165V181M1162,173H1174"/>
<rect x="1225" y="157" width="25" height="33"/><circle cx="1237" cy="166" r="4"/><path d="M1228,190V206M1237,190V206M1247,190V206"/>
<rect x="1226" y="209" width="3" height="5"/><rect x="1236" y="209" width="3" height="5"/><rect x="1245" y="209" width="3" height="5"/>
<rect x="1340" y="165" width="21" height="18"/><path d="M1343,183V196M1351,160V198M1358,183V196"/>
<path d="M1386,167L1388,165H1393V182H1386ZM1389,182V196"/>
<path d="M1431,160H1441A11,15 0 0 1 1441,190H1431ZM1437,157V193M1432,165H1444M1432,173H1444M1432,180H1444"/>
<rect x="1173" y="261" width="57" height="20"/>
<path d="M1176,256V261M1184,256V261M1192,256V261M1200,256V261M1208,256V261M1216,256V261M1224,256V261M1176,281V286M1184,281V286M1192,281V286M1200,281V286M1208,281V286M1216,281V286M1224,281V286"/>
<rect x="1346" y="236" width="11" height="5"/><rect x="1346" y="250" width="11" height="5"/><rect x="1346" y="265" width="11" height="5"/><rect x="1346" y="279" width="11" height="5"/>
<path d="M1338,238.5H1346M1357,238.5H1364M1338,252.5H1346M1357,252.5H1364M1338,267.5H1346M1357,267.5H1364M1338,281.5H1346M1357,281.5H1364M1349,252.5H1354M1351.5,265V270M1350.5,279.5V283.5M1352.5,279.5V283.5"/>
</g>
<g class="s" font-size="8">
<text x="1130" y="126" font-size="9.5" textLength="230" lengthAdjust="spacingAndGlyphs">Цоколевка транзисторов и микросхем</text>
<text x="1112" y="146" textLength="83" lengthAdjust="spacingAndGlyphs">КТ3102Г, КТ3107Д</text>
<text x="1206" y="146" textLength="89" lengthAdjust="spacingAndGlyphs">КТ816Б,КТ817Б,КТ646А</text>
<text x="1342" y="146" textLength="42" lengthAdjust="spacingAndGlyphs">КТ315В</text>
<text x="1414" y="146" textLength="46" lengthAdjust="spacingAndGlyphs">КТ303Д</text>
<text x="1171" y="159">К</text><text x="1141" y="176">Б</text><text x="1170" y="197">Э</text>
<text x="1221" y="222">Э  К  Б</text><text x="1339" y="206">Э К Б</text>
<text x="1423" y="167" font-size="6">Э</text><text x="1423" y="175" font-size="6">Б</text><text x="1423" y="183" font-size="6">К</text>
<text x="1124" y="234" textLength="181" lengthAdjust="spacingAndGlyphs">К553 УД2, К155ЛП5, К155ЛА3, К155ЛА8</text>
<text x="1183" y="245" textLength="57" lengthAdjust="spacingAndGlyphs">К155ТМ2</text>
<text x="1176" y="268" font-size="6">14</text><text x="1225" y="268" font-size="6">8</text><text x="1176" y="278" font-size="6">•1</text><text x="1225" y="279" font-size="6">7</text>
<text x="1374" y="242">0,125 Вт</text><text x="1374" y="256">0,5 Вт</text><text x="1374" y="271">1,0 Вт.</text><text x="1374" y="285">2,0 Вт.</text>
</g>
<g class="r">
<text x="1165" y="339" textLength="231" lengthAdjust="spacingAndGlyphs">Типы применяемых радиоэлементов.</text>
<text x="1153" y="358" font-size="9">Микросхемы:</text>
<text x="1235" y="358" font-size="9" textLength="179" lengthAdjust="spacingAndGlyphs">У1... У3- К553УД2; У4- К155ЛП5;</text>
<text x="1232" y="372" font-size="9" textLength="140" lengthAdjust="spacingAndGlyphs">У5,У7...У10,У12- К155 ЛА3;</text>
<text x="1232" y="386" font-size="9" textLength="158" lengthAdjust="spacingAndGlyphs">У6 - К155ЛА8 ;  У11-К155ТМ2.</text>
<text x="1151" y="402" font-size="9">Конденсаторы:</text>
<text x="1235" y="402" font-size="9" textLength="191" lengthAdjust="spacingAndGlyphs">С1...С3, С12, С28,С33,С45,С46 - К50-6,</text>
<text x="1235" y="417" font-size="9">С41* - КСО-5;</text>
<text x="1235" y="432" font-size="9" textLength="205" lengthAdjust="spacingAndGlyphs">С4, С8...С11, С16...С20,С22, С24, С35...С39,</text>
<text x="1235" y="447" font-size="9" textLength="148" lengthAdjust="spacingAndGlyphs">С42... С44, С47  - К10-7В;</text>
<text x="1235" y="462" font-size="9" textLength="115" lengthAdjust="spacingAndGlyphs">С5...С7,С23  - К21-7;</text>
<text x="1235" y="477" font-size="9" textLength="210" lengthAdjust="spacingAndGlyphs">С13...С15, С25,С26, С30,С32, С34 - К73-9;</text>
<text x="1151" y="497" font-size="9">Резисторы:</text>
<text x="1235" y="497" font-size="9" textLength="205" lengthAdjust="spacingAndGlyphs">R1... R14, R16... R23, R25... R27, R31, R32, R35,</text>
<text x="1235" y="510" font-size="9" textLength="264" lengthAdjust="spacingAndGlyphs">R40, R43, R44, R47... R49, R53...R56, R61...R65 - С1-4-0,125;</text>
<text x="1235" y="525" font-size="9">R15  - МЛТ-2,0;</text>
<text x="1235" y="539" font-size="9" textLength="220" lengthAdjust="spacingAndGlyphs">R24, R29, R30, R33, R34, R37, R39, R42, R45, R46,</text>
<text x="1235" y="554" font-size="9" textLength="130" lengthAdjust="spacingAndGlyphs">R50...R52  -  МЛТ-0,125;</text>
<text x="1235" y="569" font-size="9" textLength="220" lengthAdjust="spacingAndGlyphs">R57, R58, R60 - С2-14-0,5;   R59 - СП3-1Б;</text>
<text x="1151" y="589" font-size="9">Транзисторы:</text>
<text x="1235" y="589" font-size="9" textLength="193" lengthAdjust="spacingAndGlyphs">Т1... Т3 - КТ3102Г;  Т4...Т6 - КТ816В;</text>
<text x="1235" y="601" font-size="9" textLength="299" lengthAdjust="spacingAndGlyphs">Т7...Т9 - КТ646А ; Т10-КТ3107Д; Т11 - КТ315В, Т12 - КТ817Б;</text>
<text x="1151" y="621" font-size="9">Диоды:</text>
<text x="1232" y="621" font-size="9">Д2  - КД 503Б;</text>
<text x="1151" y="635" font-size="9" textLength="237" lengthAdjust="spacingAndGlyphs">Стабилитроны: Д1 - КС191А;  Д3 - КС-170А;</text>
<text x="1151" y="650" font-size="9">Вилки:</text>
<text x="1232" y="650" font-size="9">Ш1- СНП40-8В;</text>
<text x="1232" y="666" font-size="9">Ш2 - СНП40-10В.</text>
<text x="1147" y="703" font-size="9" textLength="214" lengthAdjust="spacingAndGlyphs">1.* Подбирают  при регулировании.</text>
<text x="1147" y="720" font-size="9" textLength="180" lengthAdjust="spacingAndGlyphs">2.  К.Т.  - контрольная  точка.</text>
</g>
<text x="1469" y="866" font-size="16" style="font-style:normal;stroke-width:0.2px" fill="#111" textLength="93" lengthAdjust="spacingAndGlyphs">analog.pro</text>
</svg>
</body></html>
